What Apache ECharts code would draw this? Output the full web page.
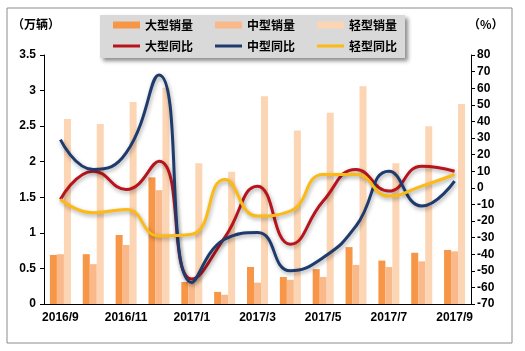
<!DOCTYPE html>
<html>
<head>
<meta charset="utf-8">
<script src="https://cdn.jsdelivr.net/npm/echarts@6/dist/echarts.min.js"></script>
<style>
html, body { margin: 0; padding: 0; background: #fff; }
#chart { width: 525px; height: 351px; }
</style>
</head>
<body>
<div id="chart"></div>
<script>
// 月份
const months = ['2016/9', '2016/10', '2016/11', '2016/12', '2017/1', '2017/2', '2017/3',
  '2017/4', '2017/5', '2017/6', '2017/7', '2017/8', '2017/9'];

// 销量（万辆）
const largeSales = [0.69, 0.70, 0.97, 1.78, 0.31, 0.17, 0.52, 0.38, 0.49, 0.80, 0.61, 0.72, 0.76];
const mediumSales = [0.70, 0.56, 0.83, 1.60, 0.30, 0.13, 0.30, 0.34, 0.38, 0.55, 0.52, 0.60, 0.74];
const lightSales = [2.60, 2.53, 2.84, 3.04, 1.98, 1.86, 2.92, 2.44, 2.69, 3.06, 1.98, 2.50, 2.81];

// 同比（%）
const largeYoy = [-7, 10, -1, 16, -55, -30, 1, -34, -8, 11, -2, 13, 10];
const mediumYoy = [29, 11, 21, 68, -57, -31, -27, -50, -42, -23, 10, -11, 4];
const lightYoy = [-7, -15, -13, -29, -28, 5, -17, -14, 8, 8, -5, 1, 8];

const numFont = 'Liberation Sans, Arial, sans-serif';
const cjkFont = 'Noto Sans CJK SC, sans-serif';

const chart = echarts.init(document.getElementById('chart'));

function barSeries(name, data, color) {
  return {
    name: name,
    type: 'bar',
    data: data,
    barWidth: 7,
    barGap: '0%',
    itemStyle: { color: color },
    z: 2
  };
}

function lineSeries(name, data, color) {
  return {
    name: name,
    type: 'line',
    yAxisIndex: 1,
    data: data,
    smooth: 0.5,
    symbol: 'none',
    lineStyle: {
      width: 3,
      color: color,
      shadowColor: 'rgba(0,0,0,0.35)',
      shadowBlur: 4,
      shadowOffsetX: 1,
      shadowOffsetY: 2
    },
    itemStyle: { color: color },
    z: 3
  };
}

const legendText = { fontFamily: cjkFont, fontWeight: 'bold', fontSize: 12, color: '#000' };

chart.setOption({
  animation: false,
  graphic: [
    {
      type: 'rect',
      shape: { x: 7, y: 8, width: 505, height: 335 },
      style: { fill: 'none', stroke: '#8c8c8c', lineWidth: 1 },
      z: 0
    },
    {
      type: 'rect',
      shape: { x: 100, y: 15, width: 305, height: 43 },
      style: {
        fill: '#d9d9d9',
        shadowColor: 'rgba(0,0,0,0.45)',
        shadowBlur: 4,
        shadowOffsetX: 3,
        shadowOffsetY: 3
      },
      z: 1
    },
    {
      type: 'text',
      left: 12,
      top: 18,
      style: { text: '（万辆）', font: 'bold 12px ' + cjkFont, fill: '#000' },
      z: 5
    },
    {
      type: 'text',
      left: 468,
      top: 18,
      style: { text: '（%）', font: 'bold 12px ' + cjkFont, fill: '#000' },
      z: 5
    }
  ],
  legend: [
    {
      data: ['大型销量', '中型销量', '轻型销量'],
      left: 113,
      top: 19,
      padding: 0,
      icon: 'rect',
      itemWidth: 27,
      itemHeight: 7,
      itemGap: 22,
      textStyle: legendText,
      z: 6
    },
    {
      data: ['大型同比', '中型同比', '轻型同比'],
      left: 113,
      top: 40,
      padding: 0,
      icon: 'rect',
      itemWidth: 27,
      itemHeight: 3,
      itemGap: 22,
      textStyle: legendText,
      z: 6
    }
  ],
  grid: { left: 44, right: 54, top: 55, bottom: 47 },
  xAxis: {
    type: 'category',
    data: months,
    axisLine: { lineStyle: { color: '#000', width: 1 } },
    axisTick: { interval: 0, length: 5, lineStyle: { color: '#000' } },
    axisLabel: {
      interval: 1,
      color: '#000',
      fontFamily: numFont,
      fontWeight: 'bold',
      fontSize: 12,
      margin: 8
    }
  },
  yAxis: [
    {
      type: 'value',
      min: 0,
      max: 3.5,
      interval: 0.5,
      axisLine: { show: true, lineStyle: { color: '#000' } },
      axisTick: { show: true, length: 4, lineStyle: { color: '#000' } },
      splitLine: { show: false },
      axisLabel: { color: '#000', fontFamily: numFont, fontWeight: 'bold', fontSize: 12, margin: 8 }
    },
    {
      type: 'value',
      min: -70,
      max: 80,
      interval: 10,
      axisLine: { show: true, lineStyle: { color: '#000' } },
      axisTick: { show: true, length: 4, lineStyle: { color: '#000' } },
      splitLine: { show: false },
      axisLabel: { color: '#000', fontFamily: numFont, fontWeight: 'bold', fontSize: 12, margin: 6 }
    }
  ],
  series: [
    barSeries('大型销量', largeSales, '#F79646'),
    barSeries('中型销量', mediumSales, '#FAB98A'),
    barSeries('轻型销量', lightSales, '#FCD5B4'),
    lineSeries('大型同比', largeYoy, '#B8141C'),
    lineSeries('中型同比', mediumYoy, '#1F3B6E'),
    lineSeries('轻型同比', lightYoy, '#FBBA16')
  ]
});
</script>
</body>
</html>
